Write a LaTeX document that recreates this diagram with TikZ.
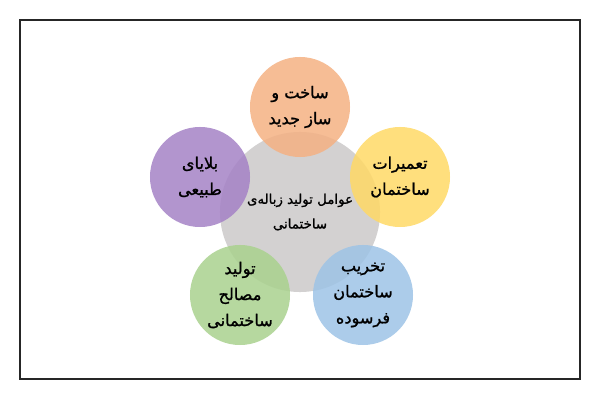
\documentclass[tikz,border=0pt]{standalone}
\usepackage{fontspec}
\newfontfamily\farsifont[Script=Arabic, RawFeature={embolden=1.2}]{DejaVu Sans}
\TeXXeTstate=1
\newcommand{\fatext}[1]{\beginR #1\endR}
\definecolor{hubgray}{HTML}{D3D1D1}
\definecolor{buildorange}{HTML}{F4B183}
\definecolor{disasterpurple}{HTML}{A582C6}
\definecolor{repairyellow}{HTML}{FFD966}
\definecolor{materialgreen}{HTML}{A9D18E}
\definecolor{demolishblue}{HTML}{9DC3E6}
\tikzset{
  cause/.style={circle, minimum size=2.5cm, inner sep=0pt, align=center,
    fill opacity=0.85, text opacity=1, font=\farsifont\fontsize{11.5}{18.5}\selectfont},
  hub/.style={circle, minimum size=4cm, inner sep=0pt, align=center,
    fill=hubgray, font=\farsifont\fontsize{9.5}{17.5}\selectfont}
}
\begin{document}
  \begin{tikzpicture}[x=0.025cm, y=-0.025cm]
    \useasboundingbox (0,0) rectangle (600,400);
    \draw[line width=1.1pt, black!85] (20,20) rectangle (580,379);
    \node[hub] (hub) at (300,212) {\fatext{عوامل تولید زباله‌ی}\\\fatext{ساختمانی}};
    \node[cause, fill=buildorange] (build) at (300,107)
      {\fatext{ساخت و}\\\fatext{ساز جدید}};
    \node[cause, fill=repairyellow] (repair) at (400,177)
      {\fatext{تعمیرات}\\\fatext{ساختمان}};
    \node[cause, fill=demolishblue] (demolish) at (363,295)
      {\fatext{تخریب}\\\fatext{ساختمان}\\\fatext{فرسوده}};
    \node[cause, fill=materialgreen] (material) at (240,295)
      {\fatext{تولید}\\\fatext{مصالح}\\\fatext{ساختمانی}};
    \node[cause, fill=disasterpurple] (disaster) at (200,177)
      {\fatext{بلایای}\\\fatext{طبیعی}};
  \end{tikzpicture}
\end{document}
